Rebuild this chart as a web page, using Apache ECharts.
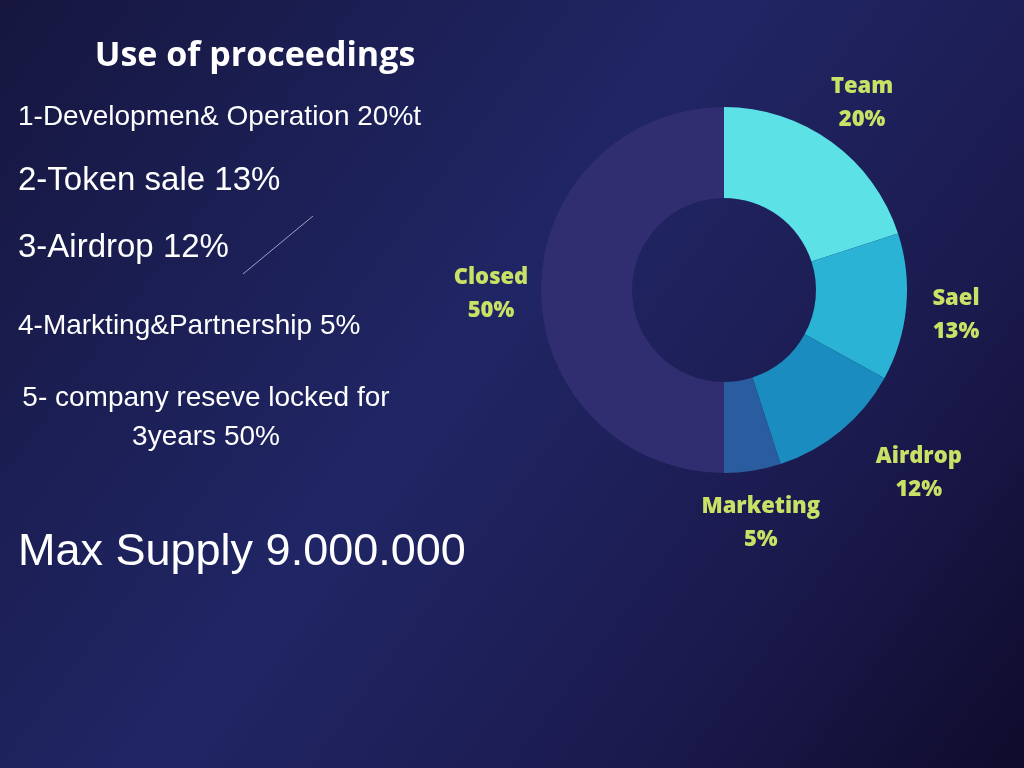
<!DOCTYPE html>
<html>
<head>
<meta charset="utf-8">
<script src="https://cdn.jsdelivr.net/npm/echarts@6/dist/echarts.min.js"></script>
<style>
html,body{margin:0;padding:0;width:1024px;height:768px;overflow:hidden;background:#161843;}
#chart{width:1024px;height:768px;}
</style>
</head>
<body>
<div id="chart"></div>
<script>
// ---- data ----
const categories = ['Team', 'Sael', 'Airdrop', 'Marketing', 'Closed'];
const shares = [20, 13, 12, 5, 50];
const sliceColors = ['#5ce1e6', '#2ab3d4', '#1a8cbf', '#2a5d9f', '#302e70'];
const titleText = 'Use of proceedings';
const listLines = [
  '1-Developmen& Operation 20%t',
  '2-Token sale 13%',
  '3-Airdrop 12%',
  '4-Markting&Partnership 5%',
  '5- company reseve locked for',
  '3years 50%'
];
const supplyText = 'Max Supply 9.000.000';

// ---- layout/style (not data) ----
const labelOffsets = {Team: [0, 3], Sael: [-2, 3], Airdrop: [45, 2], Marketing: [0, 1], Closed: [2, 4]};
const lineStyles = [
  {x: 18, y: 117, size: 28, align: 'left'},
  {x: 18, y: 181, size: 33, align: 'left'},
  {x: 18, y: 248, size: 33, align: 'left'},
  {x: 18, y: 326, size: 28, align: 'left'},
  {x: 206, y: 398, size: 28, align: 'center'},
  {x: 206, y: 437, size: 28, align: 'center'}
];

const chart = echarts.init(document.getElementById('chart'));

const pieData = categories.map((c, i) => ({
  name: c, value: shares[i], itemStyle: {color: sliceColors[i]}
}));
const labelData = categories.map((c, i) => ({
  name: c, value: shares[i],
  label: labelOffsets[c] ? {offset: labelOffsets[c]} : {}
}));

const graphics = [];
graphics.push({
  type: 'text', x: 255, y: 56,
  style: {text: titleText, fill: '#ffffff', font: 'bold 34px "Open Sans", sans-serif',
          textAlign: 'center', textVerticalAlign: 'middle'}
});
listLines.forEach((t, i) => {
  const s = lineStyles[i];
  graphics.push({
    type: 'text', x: s.x, y: s.y,
    style: {text: t, fill: '#ffffff', font: s.size + 'px "Liberation Sans", Arial, sans-serif',
            textAlign: s.align, textVerticalAlign: 'middle'}
  });
});
graphics.push({
  type: 'text', x: 18, y: 553,
  style: {text: supplyText, fill: '#ffffff', font: '45px "Liberation Sans", Arial, sans-serif',
          textAlign: 'left', textVerticalAlign: 'middle'}
});
graphics.push({
  type: 'line', shape: {x1: 243, y1: 274, x2: 313, y2: 216},
  style: {stroke: 'rgba(200,205,235,0.75)', lineWidth: 1}
});

chart.setOption({
  animation: false,
  backgroundColor: {
    type: 'linear', x: 0, y: 0, x2: 1, y2: 1,
    colorStops: [
      {offset: 0, color: '#16163f'},
      {offset: 0.45, color: '#202665'},
      {offset: 0.75, color: '#1b1a4e'},
      {offset: 1, color: '#0f0b2c'}
    ]
  },
  graphic: graphics,
  series: [
    {
      type: 'pie',
      center: [724, 290],
      radius: [92, 183],
      startAngle: 90,
      clockwise: true,
      silent: true,
      label: {show: false},
      labelLine: {show: false},
      data: pieData
    },
    {
      type: 'pie',
      center: [724, 290],
      radius: [200, 264],
      startAngle: 90,
      clockwise: true,
      silent: true,
      itemStyle: {color: 'rgba(0,0,0,0)'},
      label: {
        show: true, position: 'inside',
        formatter: '{b}\n{c}%',
        color: '#c9e265',
        fontFamily: '"Open Sans", sans-serif',
        fontWeight: 800,
        fontSize: 22,
        lineHeight: 33,
        align: 'center'
      },
      labelLine: {show: false},
      data: labelData
    }
  ]
});
</script>
</body>
</html>
